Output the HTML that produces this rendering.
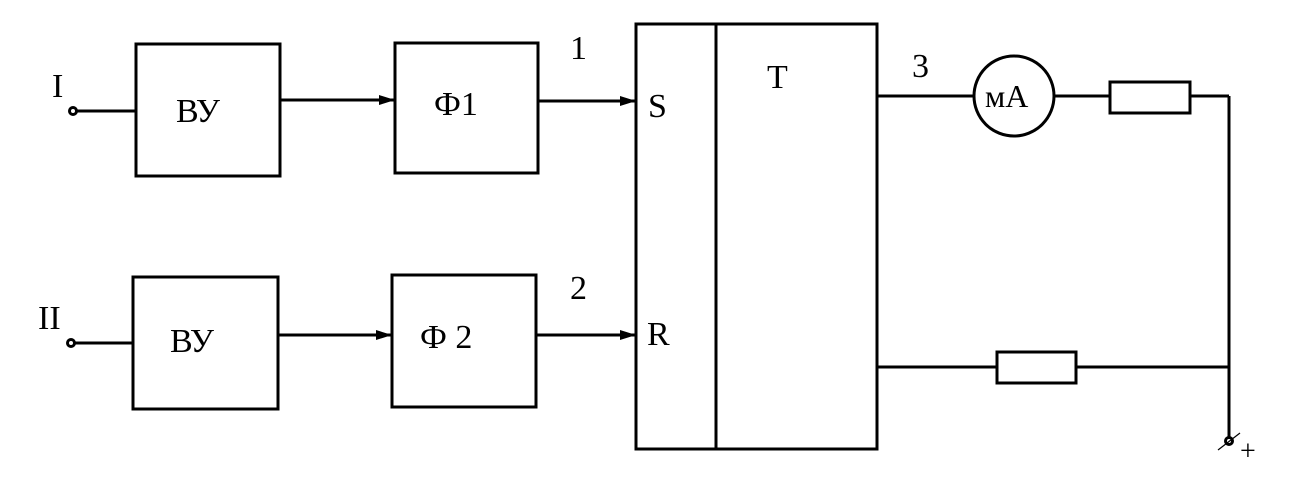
<!DOCTYPE html>
<html><head><meta charset="utf-8"><style>html,body{margin:0;padding:0;background:#fff}svg{display:block}text{font-family:"Liberation Serif","Times New Roman",serif}</style></head><body>
<svg width="1301" height="501" viewBox="0 0 1301 501" xmlns="http://www.w3.org/2000/svg">
<defs><marker id="a" markerWidth="16" markerHeight="12" refX="15" refY="6" orient="auto" markerUnits="userSpaceOnUse"><path d="M0,1 L16,6 L0,11 Z" fill="#000"/></marker></defs>
<g fill="none" stroke="#000" stroke-width="3">
<rect x="136" y="44" width="144" height="132"/>
<rect x="395" y="43" width="143" height="130"/>
<rect x="133" y="277" width="145" height="132"/>
<rect x="392" y="275" width="144" height="132"/>
<rect x="636" y="24" width="241" height="425"/>
<line x1="716" y1="24" x2="716" y2="449"/>
<line x1="76" y1="111" x2="136" y2="111"/>
<circle cx="73" cy="111" r="3.5" stroke-width="3"/>
<line x1="74" y1="343" x2="133" y2="343"/>
<circle cx="71" cy="343" r="3.5" stroke-width="3"/>
<line x1="280" y1="100" x2="394" y2="100" marker-end="url(#a)"/>
<line x1="538" y1="101" x2="635" y2="101" marker-end="url(#a)"/>
<line x1="278" y1="335" x2="391" y2="335" marker-end="url(#a)"/>
<line x1="536" y1="335" x2="635" y2="335" marker-end="url(#a)"/>
<line x1="877" y1="96" x2="974" y2="96"/>
<circle cx="1014" cy="96" r="40"/>
<line x1="1054" y1="96" x2="1110" y2="96"/>
<rect x="1110" y="82" width="80" height="31"/>
<line x1="1190" y1="96" x2="1229" y2="96"/>
<line x1="1229" y1="96" x2="1229" y2="437"/>
<line x1="877" y1="367" x2="997" y2="367"/>
<rect x="997" y="352" width="79" height="31"/>
<line x1="1076" y1="367" x2="1229" y2="367"/>
<circle cx="1229" cy="441" r="3.5" stroke-width="3"/>
<line x1="1218" y1="450" x2="1240" y2="433" stroke-width="1.2"/>
</g>
<g font-size="34" fill="#000">
<text x="52" y="97">I</text>
<text x="38" y="329">II</text>
<text x="176" y="122">ВУ</text>
<text x="170" y="352">ВУ</text>
<text x="434" y="115">Ф1</text>
<text x="420" y="348">Ф 2</text>
<text x="570" y="59">1</text>
<text x="570" y="299">2</text>
<text x="912" y="77">3</text>
<text x="648" y="117">S</text>
<text x="647" y="345">R</text>
<text x="767" y="88">T</text>
<text x="985" y="107" font-size="32">мА</text>
<text x="1240" y="460" font-size="28">+</text>
</g>
</svg>
</body></html>
